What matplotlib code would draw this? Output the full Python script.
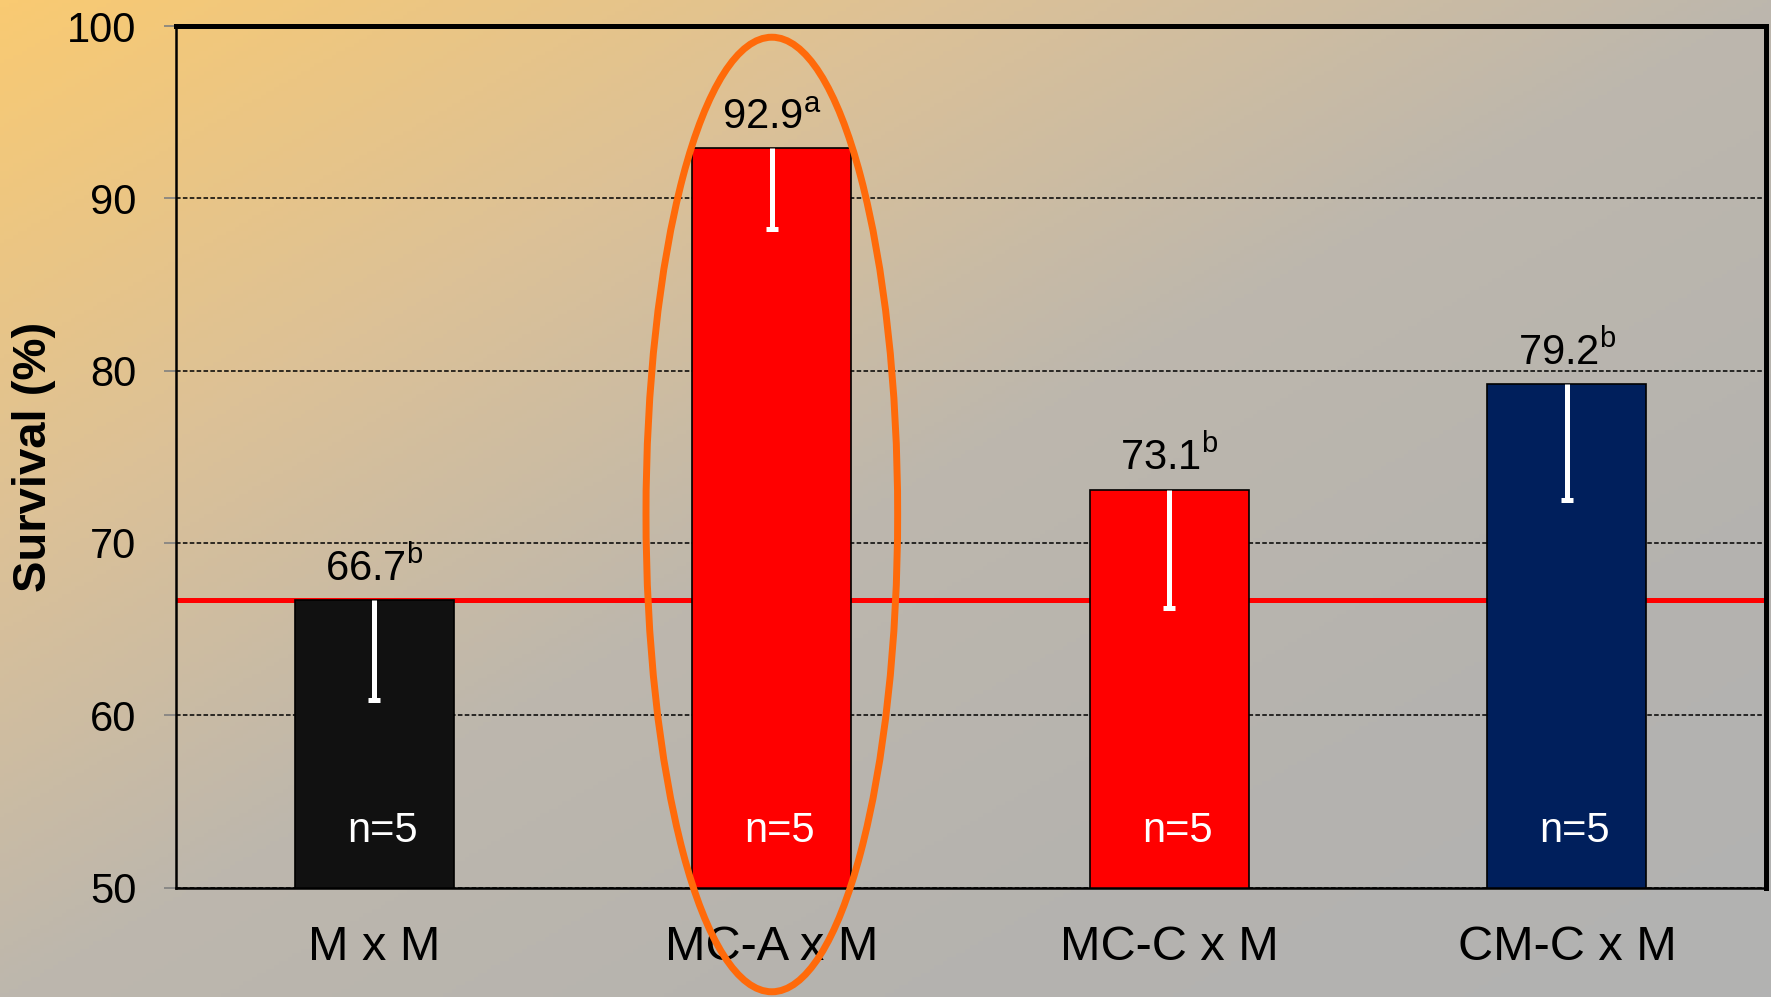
import numpy as np
import matplotlib
matplotlib.use('Agg')
import matplotlib.pyplot as plt
from matplotlib.colors import LinearSegmentedColormap
from matplotlib.patches import Ellipse

plt.rcParams['font.family'] = ['Liberation Sans', 'DejaVu Sans']
plt.rcParams['mathtext.fontset'] = 'custom'
plt.rcParams['mathtext.rm'] = 'Liberation Sans'

# survival per cross
crosses = ['M x M', 'MC-A x M', 'MC-C x M', 'CM-C x M']
survival = [66.7, 92.9, 73.1, 79.2]
errors = [5.8, 4.7, 6.9, 6.7]
letters = ['b', 'a', 'b', 'b']
n_labels = ['n=5', 'n=5', 'n=5', 'n=5']
bar_colors = ['#111111', '#FF0000', '#FF0000', '#001F5C']
yticks = [50, 60, 70, 80, 90, 100]
control_level = survival[0]

fig = plt.figure(figsize=(17.71, 9.97), dpi=100)

# diagonal orange-to-grey backdrop
bg = fig.add_axes([0, 0, 1, 1], zorder=-10)
gx, gy = np.meshgrid(np.linspace(0, 1, 400), np.linspace(0, 1, 250))
grad = (gx + gy) / 2
cmap = LinearSegmentedColormap.from_list(
    'bg', [(0, '#F9CA72'), (0.27, '#DCC197'), (0.5, '#BDB7AD'),
           (0.75, '#B5B3AF'), (1, '#B2B2B2')])
bg.imshow(grad, cmap=cmap, aspect='auto', extent=[0, 1, 0, 1], origin='upper')
bg.axis('off')

ax = fig.add_axes([0.0991, 0.1098, 0.8979, 0.8641])
ax.set_facecolor('none')
x = np.arange(len(crosses))
lower = [v - e for v, e in zip(survival, errors)]

ax.axhline(control_level, color='#FF0000', lw=3.6, zorder=1)
ax.bar(x, survival, width=0.40, bottom=0, color=bar_colors,
       edgecolor='black', linewidth=1.2, zorder=2)

# one-sided (downward) error bars with a cap only at the bottom
ax.vlines(x, lower, survival, color='white', lw=3.6, zorder=3)
ax.plot(x, lower, ls='none', marker='_', ms=9, mew=3.6, color='white', zorder=3)

for xi, v, let, n in zip(x, survival, letters, n_labels):
    ax.annotate(f'{v}$\\mathregular{{^{let}}}$', (xi, v), xytext=(0, 14),
                textcoords='offset points', ha='center', va='baseline',
                fontsize=30, color='black')
    ax.text(xi + 0.02, 53.3, n, ha='center', va='center', fontsize=30,
            color='white', zorder=4)

ax.add_patch(Ellipse((1, 71.65), width=0.633, height=55.4, fill=False,
                     edgecolor='#FF6A0A', lw=5, clip_on=False, zorder=5))

ax.set_xlim(-0.5, len(crosses) - 0.5)
ax.set_ylim(50, 100)
ax.set_yticks(yticks)
ax.set_xticks(x)
ax.set_xticklabels(crosses, fontsize=35)
ax.tick_params(axis='x', length=0, pad=27)
ax.tick_params(axis='y', labelsize=30, length=9, width=1.2, color='#808080',
               pad=19, direction='out')
ax.yaxis.grid(True, color='black', linestyle=(0, (3, 1.5)), lw=1.1)
ax.set_axisbelow(True)

for side in ['top', 'right']:
    ax.spines[side].set_linewidth(3.6)
    ax.spines[side].set_color('black')
for side in ['left', 'bottom']:
    ax.spines[side].set_linewidth(1.8)
    ax.spines[side].set_color('black')

fig.text(34 / 1771, 0.5416, 'Survival (%)', rotation=90, ha='center',
         va='center', fontsize=34, fontweight='bold')

fig.savefig('out.png', dpi=100)
